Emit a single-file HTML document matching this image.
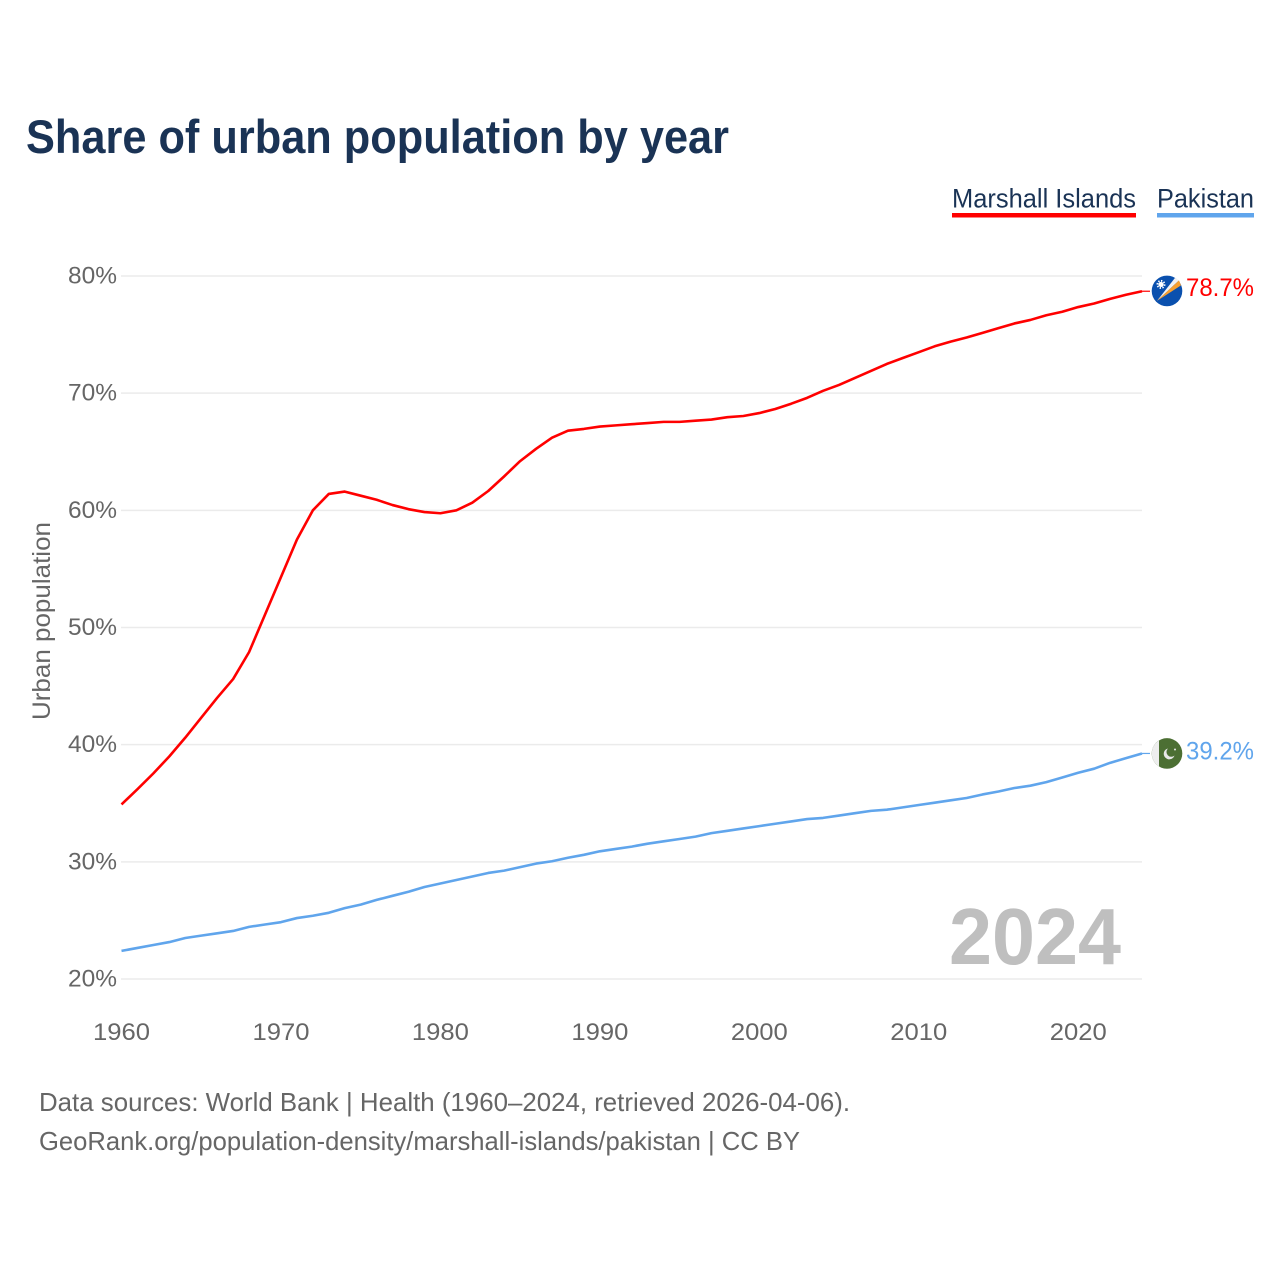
<!DOCTYPE html>
<html lang="en">
<head>
<meta charset="utf-8">
<title>Share of urban population by year</title>
<style>
html,body{margin:0;padding:0;background:#fff}
svg{display:block}
text{font-family:"Liberation Sans",sans-serif}
</style>
</head>
<body>
<svg id="chart" xmlns="http://www.w3.org/2000/svg" width="1280" height="1280" viewBox="0 0 1280 1280">
  <rect width="1280" height="1280" fill="#fff"/>
  <text x="26" y="153" font-size="47" font-weight="700" fill="#1a3355" textLength="703" lengthAdjust="spacingAndGlyphs">Share of urban population by year</text>

  <g>
    <g>
      <text x="952" y="207.5" font-size="27" fill="#1a3355" textLength="184" lengthAdjust="spacingAndGlyphs">Marshall Islands</text>
      <rect x="952" y="213" width="184" height="4.5" fill="#ff0000"/>
    </g>
    <g>
      <text x="1157" y="207.5" font-size="27" fill="#1a3355" textLength="97" lengthAdjust="spacingAndGlyphs">Pakistan</text>
      <rect x="1157" y="213" width="97" height="4.5" fill="#60a5ec"/>
    </g>
  </g>

  <g id="grid"></g>
  <g id="y-ticks"></g>
  <g id="x-ticks"></g>

  <text transform="translate(50 621) rotate(-90)" text-anchor="middle" font-size="25" fill="#666" textLength="198" lengthAdjust="spacingAndGlyphs">Urban population</text>

  <text x="949" y="964" font-size="80" font-weight="700" fill="#bfbfbf" textLength="172" lengthAdjust="spacingAndGlyphs">2024</text>

  <g id="series"></g>

  <g id="flag-marshall">
    <circle r="15.3" fill="#0a50ae"/>
    <polygon points="-10,10 8,-13 12,-10.5" fill="#f2f2f2"/>
    <polygon points="-10,10 12,-10.5 14,-5.5" fill="#f7a030"/>
    <circle cx="-6" cy="-6.5" r="2.6" fill="#fff"/>
    <circle cx="-6" cy="-6.5" r="3.6" fill="none" stroke="#fff" stroke-width="1.8" stroke-dasharray="1.4 1.4"/>
  </g>

  <g id="flag-pakistan">
    <circle r="15.3" fill="#4c6f33"/>
    <path d="M-8,-13 A15.3,15.3 0 0 0 -8,13 Z" fill="#eeeeee"/>
    <path d="M7.5,2 A5.5,5.5 0 1 1 1,-5 A4.5,4.5 0 1 0 7.5,2 Z" fill="#e8e8e8"/>
    <circle cx="8" cy="-4" r="1" fill="#e8e8e8"/>
  </g>

  <text id="value-marshall" x="1186" y="296" font-size="25" fill="#ff0000" textLength="68" lengthAdjust="spacingAndGlyphs">78.7%</text>
  <text id="value-pakistan" x="1186" y="760" font-size="25" fill="#60a5ec" textLength="68" lengthAdjust="spacingAndGlyphs">39.2%</text>

  <text x="39" y="1111" font-size="26" fill="#666" textLength="811" lengthAdjust="spacingAndGlyphs">Data sources: World Bank | Health (1960–2024, retrieved 2026-04-06).</text>
  <text x="39" y="1150" font-size="26" fill="#666" textLength="761" lengthAdjust="spacingAndGlyphs">GeoRank.org/population-density/marshall-islands/pakistan | CC BY</text>
</svg>

<script>
const startYear = 1960;
const endYear = 2024;
const yTicks = [20, 30, 40, 50, 60, 70, 80];
const xTicks = [1960, 1970, 1980, 1990, 2000, 2010, 2020];
const marshallValues = [
  34.9, 36.2, 37.55, 39.0, 40.6, 42.3, 44.0, 45.6, 47.9, 51.1,
  54.3, 57.5, 60.0, 61.4, 61.6, 61.25, 60.9, 60.45, 60.1, 59.85,
  59.75, 60.0, 60.65, 61.65, 62.9, 64.2, 65.25, 66.2, 66.8, 66.95,
  67.15, 67.25, 67.35, 67.45, 67.55, 67.55, 67.65, 67.75, 67.95, 68.05,
  68.3, 68.65, 69.1, 69.6, 70.2, 70.7, 71.3, 71.9, 72.5, 73.0,
  73.5, 74.0, 74.4, 74.75, 75.15, 75.55, 75.95, 76.25, 76.65, 76.95,
  77.35, 77.65, 78.05, 78.4, 78.7
];
const pakistanValues = [
  22.4, 22.65, 22.9, 23.15, 23.5, 23.7, 23.9, 24.1, 24.45, 24.65,
  24.85, 25.2, 25.4, 25.65, 26.05, 26.35, 26.75, 27.1, 27.45, 27.85,
  28.15, 28.45, 28.75, 29.05, 29.25, 29.55, 29.85, 30.05, 30.35, 30.6,
  30.9, 31.1, 31.3, 31.55, 31.75, 31.95, 32.15, 32.45, 32.65, 32.85,
  33.05, 33.25, 33.45, 33.65, 33.75, 33.95, 34.15, 34.35, 34.45, 34.65,
  34.85, 35.05, 35.25, 35.45, 35.75, 36.0, 36.3, 36.5, 36.8, 37.2,
  37.6, 37.95, 38.45, 38.85, 39.25
];

const NS = 'http://www.w3.org/2000/svg';
const plotLeft = 121.5, plotRight = 1142, plotTop = 276, plotBottom = 979;
const yMin = 20, yMax = 80;
function xScale(year) {
  return plotLeft + (year - startYear) / (endYear - startYear) * (plotRight - plotLeft);
}
function yScale(value) {
  return plotBottom - (value - yMin) / (yMax - yMin) * (plotBottom - plotTop);
}
function make(tag, attrs, parent) {
  const el = document.createElementNS(NS, tag);
  Object.keys(attrs).forEach(function (k) { el.setAttribute(k, attrs[k]); });
  parent.appendChild(el);
  return el;
}

const gridGroup = document.getElementById('grid');
const yTickGroup = document.getElementById('y-ticks');
yTicks.forEach(function (t) {
  const line = make('line', { x1: plotLeft - 0.5, x2: plotRight, y1: yScale(t), y2: yScale(t), stroke: '#ebebeb', 'stroke-width': 1.5 }, gridGroup);
  
  
  const label = make('text', { x: 68, y: yScale(t) + 7.5, 'font-size': 24, fill: '#666', textLength: 49, lengthAdjust: 'spacingAndGlyphs' }, yTickGroup);
  label.textContent = t + '%';
  
  
});

const xTickGroup = document.getElementById('x-ticks');
xTicks.forEach(function (t) {
  const label = make('text', { x: xScale(t), y: 1040, 'font-size': 24, fill: '#666', 'text-anchor': 'middle', textLength: 57, lengthAdjust: 'spacingAndGlyphs' }, xTickGroup);
  label.textContent = String(t);
  
  
});

function drawSeries(values, color, name) {
  const group = document.getElementById('series');
  const pts = values.map(function (v, i) {
    return xScale(startYear + i).toFixed(2) + ',' + yScale(v).toFixed(2);
  }).join(' ');
  const line = make('polyline', { points: pts, fill: 'none', stroke: color, 'stroke-width': 2.6, 'stroke-linejoin': 'round' }, group);
  
  
  const lastY = yScale(values[values.length - 1]);
  const link = make('line', { x1: plotRight, x2: 1150, y1: lastY, y2: lastY, stroke: color, 'stroke-width': 1.2 }, group);
  
  
  return lastY;
}
const marshallEndY = drawSeries(marshallValues, '#ff0000', 'marshall-islands');
const pakistanEndY = drawSeries(pakistanValues, '#60a5ec', 'pakistan');

document.getElementById('flag-marshall').setAttribute('transform', 'translate(1167 ' + (marshallEndY - 0.3) + ')');
document.getElementById('flag-pakistan').setAttribute('transform', 'translate(1167 ' + pakistanEndY + ')');

const marshallLabel = document.getElementById('value-marshall');
marshallLabel.setAttribute('y', marshallEndY + 5);
marshallLabel.textContent = marshallValues[marshallValues.length - 1].toFixed(1) + '%';
const pakistanLabel = document.getElementById('value-pakistan');
pakistanLabel.setAttribute('y', pakistanEndY + 6);
pakistanLabel.textContent = '39.2%';
</script>
</body>
</html>
